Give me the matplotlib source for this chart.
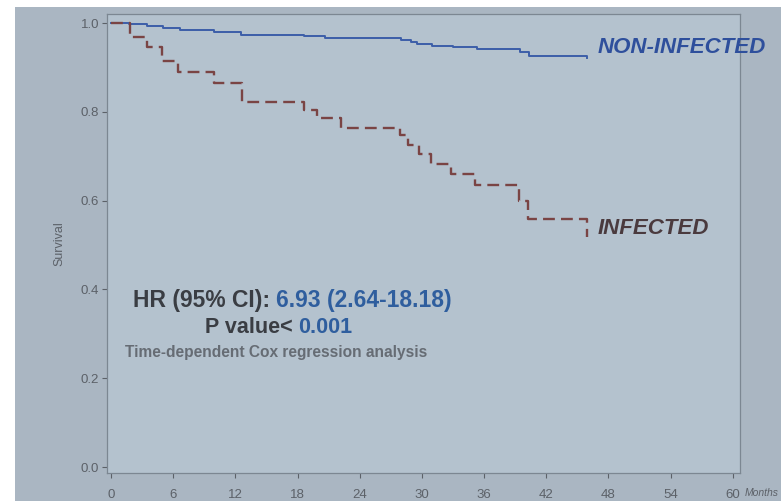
import matplotlib
matplotlib.use("Agg")
import matplotlib.pyplot as plt
from matplotlib.patches import Rectangle

plt.rcParams.update({
    "font.family": ["Liberation Sans", "DejaVu Sans"],
    "font.size": 9,
})

# Kaplan-Meier steps (months, survival)
infected_t = [0, 1.8, 3.5, 4.9, 6.5, 9.9, 12.6, 18.6, 19.9, 22.2, 27.9, 28.7,
              29.7, 30.9, 32.8, 35.1, 39.4, 40.2, 45.9]
infected_s = [1.0, 0.968, 0.945, 0.915, 0.890, 0.865, 0.822, 0.803, 0.785,
              0.764, 0.748, 0.725, 0.705, 0.683, 0.660, 0.636, 0.598, 0.558, 0.517]

noninf_t = [0, 1.7, 3.5, 5.0, 6.6, 9.9, 12.5, 18.6, 20.6, 28.0, 28.9, 29.5,
            31.0, 33.0, 35.3, 39.5, 40.3, 45.9]
noninf_s = [1.0, 0.997, 0.993, 0.988, 0.985, 0.980, 0.974, 0.970, 0.966,
            0.961, 0.957, 0.953, 0.949, 0.945, 0.942, 0.934, 0.926, 0.922]

x_ticks = list(range(0, 61, 6))
y_ticks = [0.0, 0.2, 0.4, 0.6, 0.8, 1.0]

hr_label = "HR (95% CI):"
hr_value = "6.93 (2.64-18.18)"
p_label = "P value<"
p_value = "0.001"
method_note = "Time-dependent Cox regression analysis"

BG = "#aab6c2"
PANEL = "#b4c2ce"
GREY = "#5c6168"
DARK = "#3a3d43"
BLUE_TXT = "#2f5e9e"

fig = plt.figure(figsize=(7.81, 5.01), dpi=100, facecolor=BG)
# white margins of the photo
fig.patches.append(Rectangle((0, 1 - 7 / 501), 1, 7 / 501, transform=fig.transFigure,
                             facecolor="white", edgecolor="none", zorder=-1))
fig.patches.append(Rectangle((0, 0), 15 / 781, 1, transform=fig.transFigure,
                             facecolor="white", edgecolor="none", zorder=-1))

ax = fig.add_axes([107 / 781, 1 - 473 / 501, 633 / 781, 459 / 501])
ax.set_facecolor(PANEL)

ax.step(noninf_t, noninf_s, where="post", color="#3c5ea8", lw=1.4, zorder=3)
ax.step(infected_t, infected_s, where="post", color="#7a4444", lw=1.7,
        linestyle=(0, (5, 2.6)), zorder=4)

ax.set_xlim(-0.4, 60.7)
ax.set_ylim(-0.0135, 1.0203)
ax.set_xticks(x_ticks)
ax.set_yticks(y_ticks)
ax.set_yticklabels([f"{v:.1f}" for v in y_ticks])
ax.tick_params(colors=GREY, labelcolor=GREY, labelsize=9.5, length=3.5, width=0.8)
ax.tick_params(axis="x", pad=8)
ax.tick_params(axis="y", pad=2)
for sp in ax.spines.values():
    sp.set_color("#7c8792")
    sp.set_linewidth(0.9)

ax.set_ylabel("Survival", color=GREY, fontsize=9)
ax.yaxis.set_label_coords(-0.066, 0.5)

# curve labels
ax.text(47.0, 0.944, "NON-INFECTED", color="#2e4f9c", fontsize=16,
        fontweight="bold", fontstyle="italic", va="center", ha="left")
ax.text(47.0, 0.538, "INFECTED", color="#4a3a3e", fontsize=16,
        fontweight="bold", fontstyle="italic", va="center", ha="left")

# statistics block
t1 = ax.text(2.1, 0.376, hr_label, color=DARK, fontsize=16.5, fontweight="bold",
             va="center", ha="left")
ax.annotate(hr_value, xy=(1, 0), xycoords=t1, xytext=(4, 0),
            textcoords="offset points", color=BLUE_TXT, fontsize=16.5,
            fontweight="bold", va="bottom", ha="left")
t2 = ax.text(9.1, 0.315, p_label, color=DARK, fontsize=15.5, fontweight="bold",
             va="center", ha="left")
ax.annotate(p_value, xy=(1, 0), xycoords=t2, xytext=(4, 0),
            textcoords="offset points", color=BLUE_TXT, fontsize=15.5,
            fontweight="bold", va="bottom", ha="left")
ax.text(1.35, 0.257, method_note, color="#666c74", fontsize=11.2,
        fontweight="bold", va="center", ha="left")

fig.text(745 / 781, 1 - 493 / 501, "Months", color=GREY, fontsize=7.5,
         fontstyle="italic", va="center", ha="left")

fig.savefig("out.png", dpi=100, facecolor=BG)
